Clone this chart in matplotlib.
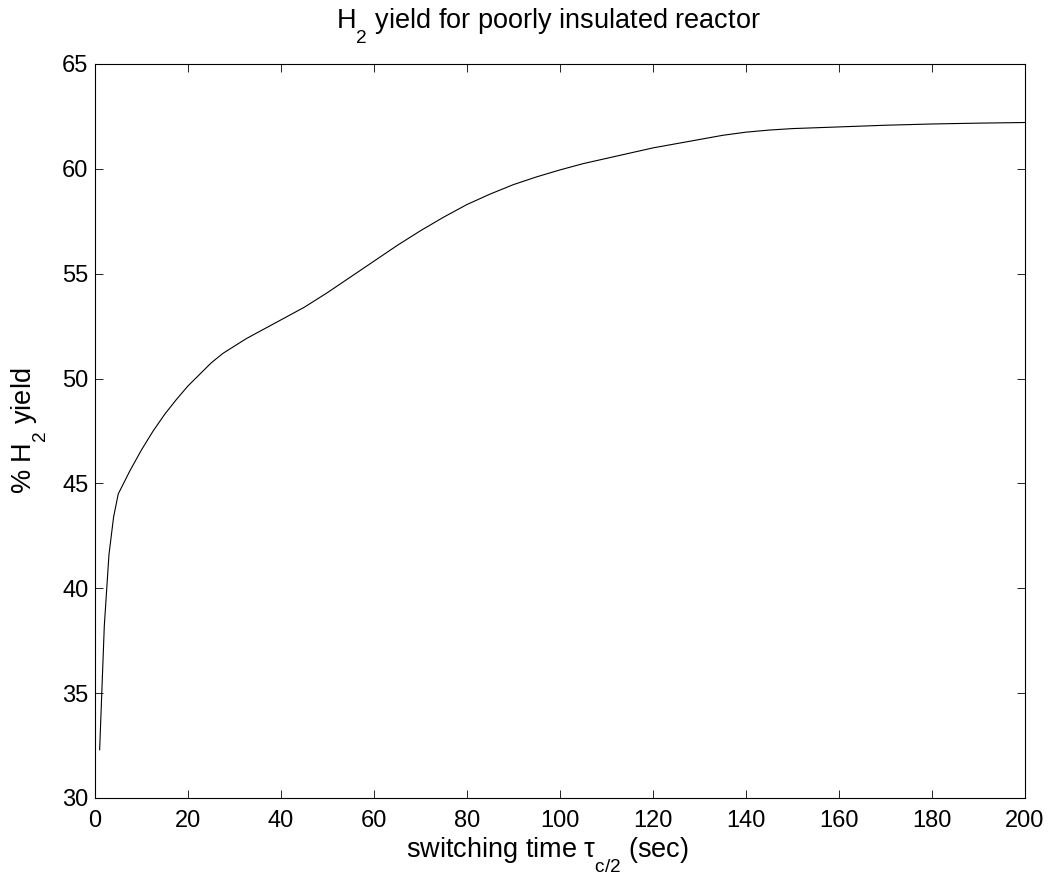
import numpy as np
import matplotlib
matplotlib.use("Agg")
import matplotlib.pyplot as plt
import matplotlib._mathtext as mathtext

plt.rcParams['font.family'] = ['Liberation Sans', 'DejaVu Sans']
plt.rcParams['mathtext.fontset'] = 'custom'
plt.rcParams['mathtext.rm'] = 'Liberation Sans'
plt.rcParams['mathtext.it'] = 'Liberation Sans'
# drop subscripts well below the baseline
mathtext.FontConstantsBase.sub1 = 1.0
mathtext.FontConstantsBase.sub2 = 1.0

# half-cycle switching time (sec) and resulting H2 yield (%)
switch_time = [1, 2, 3, 4, 5, 7.5, 10, 12.5, 15, 17.5, 20, 22.5, 25, 27.5, 30, 32.5,
               35, 37.5, 40, 42.5, 45, 47.5, 50, 55, 60, 65, 70, 75, 80, 85, 90, 95,
               100, 105, 110, 115, 120, 125, 130, 135, 140, 145, 150, 160, 170, 180,
               190, 200]
h2_yield = [32.3, 38.2, 41.6, 43.4, 44.5, 45.6, 46.6, 47.5, 48.3, 49.0, 49.65, 50.2,
            50.75, 51.2, 51.55, 51.9, 52.2, 52.5, 52.8, 53.1, 53.4, 53.75, 54.1,
            54.85, 55.6, 56.35, 57.05, 57.7, 58.3, 58.8, 59.25, 59.62, 59.95, 60.25,
            60.5, 60.75, 61.0, 61.2, 61.4, 61.6, 61.75, 61.85, 61.92, 62.0, 62.08,
            62.14, 62.18, 62.21]

xticks = np.arange(0, 201, 20)
yticks = np.arange(30, 66, 5)

fig = plt.figure(figsize=(10.48, 8.74), dpi=100)
ax = fig.add_axes([95/1048, 1 - 798/874, 930/1048, 734/874])

ax.plot(switch_time, h2_yield, color='black', linewidth=0.8)

ax.set_xlim(0, 200)
ax.set_ylim(30, 65)
ax.set_xticks(xticks)
ax.set_yticks(yticks)
ax.tick_params(direction='in', length=6, width=0.6, top=True, right=True,
               labelsize=17)
ax.tick_params(axis='x', pad=8.5)
ax.tick_params(axis='y', pad=4.8)
for s in ax.spines.values():
    s.set_linewidth(0.8)

ax.set_xlabel(r'switching time $\tau_{c/2}$ (sec)', fontsize=19.5, labelpad=2.5)
ax.xaxis.label.set_x(0.486)
ax.set_ylabel(r'% H$_2$ yield', fontsize=19.5, labelpad=10)
ax.set_title(r'H$_2$ yield for poorly insulated reactor', fontsize=19.5, pad=26,
             x=0.488)

fig.savefig('out.png', dpi=100)
